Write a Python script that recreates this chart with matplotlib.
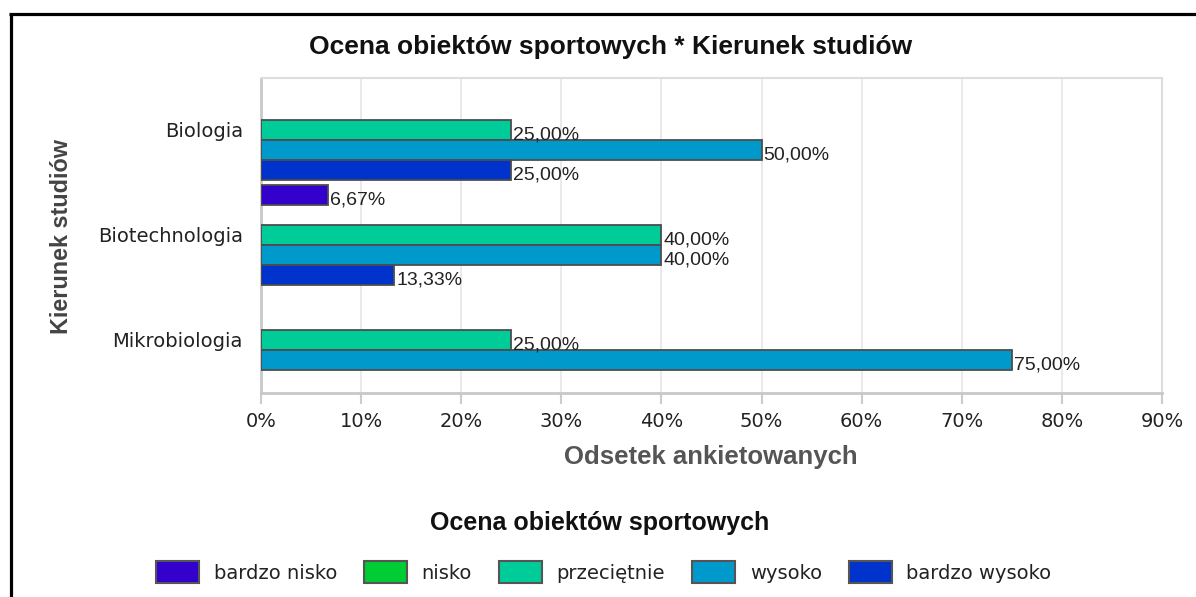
import matplotlib
matplotlib.use("Agg")
import matplotlib.pyplot as plt
from matplotlib.patches import Rectangle
from matplotlib.lines import Line2D
import numpy as np

categories = ["Biologia", "Biotechnologia", "Mikrobiologia"]
series = ["bardzo nisko", "nisko", "przeciętnie", "wysoko", "bardzo wysoko"]
colors = ["#3300CC", "#00CC33", "#00CC99", "#0099CC", "#0033CC"]
values = {
    "bardzo nisko": [0.0, 6.67, 0.0],
    "nisko": [0.0, 0.0, 0.0],
    "przeciętnie": [25.0, 40.0, 25.0],
    "wysoko": [50.0, 40.0, 75.0],
    "bardzo wysoko": [25.0, 13.33, 0.0],
}
xticks = [0, 10, 20, 30, 40, 50, 60, 70, 80, 90]
xticklabels = ["0%", "10%", "20%", "30%", "40%", "50%", "60%", "70%", "80%", "90%"]
title = "Ocena obiektów sportowych * Kierunek studiów"
xlabel = "Odsetek ankietowanych"
ylabel = "Kierunek studiów"
legend_title = "Ocena obiektów sportowych"

W, H = 1196, 597
fig = plt.figure(figsize=(W / 100, H / 100), dpi=100)
fig.patch.set_facecolor("white")

arial = ["Liberation Sans", "DejaVu Sans"]
pix = ["DejaVu Sans"]

ax = fig.add_axes([261 / W, 1 - 393 / H, (1162 - 261) / W, (393 - 78) / H])

h = 0.19
ypos = np.arange(len(categories))
for i, s in enumerate(series):
    vals = values[s]
    off = (i - 2) * h
    for j, v in enumerate(vals):
        if v <= 0:
            continue
        ax.barh(ypos[j] + off, v, height=h, color=colors[i], edgecolor="#4d4d4d",
                linewidth=1.3, zorder=3)
        ax.text(v + 0.2, ypos[j] + off + 0.045, f"{v:.2f}".replace(".", ",") + "%",
                ha="left", va="center", fontsize=14, family=arial, color="#222222",
                zorder=4)

ax.set_xlim(0, 90)
ax.set_ylim(2.505, -0.495)
ax.set_xticks(xticks)
ax.set_xticklabels(xticklabels, fontsize=14, family=pix, color="#222222")
ax.set_yticks(ypos)
ax.set_yticklabels(categories, fontsize=14, family=pix, color="#222222")
ax.tick_params(axis="x", length=8, width=1.5, color="#cccccc", pad=6)
ax.tick_params(axis="y", length=0, pad=13)
ax.grid(axis="x", color="#e6e6e6", linewidth=1.2, zorder=0)
for side in ["left", "bottom"]:
    ax.spines[side].set_color("#c8c8c8")
    ax.spines[side].set_linewidth(2)
for side in ["top", "right"]:
    ax.spines[side].set_color("#dddddd")
    ax.spines[side].set_linewidth(1.5)

fig.text(611 / W, 1 - 47 / H, title, ha="center", va="center", fontsize=19,
         fontweight="bold", family=arial, color="#111111")
fig.text(711 / W, 1 - 457 / H, xlabel, ha="center", va="center", fontsize=18.5,
         fontweight="bold", family=arial, color="#555555")
fig.text(62 / W, 1 - 237 / H, ylabel, ha="center", va="center", rotation=90,
         fontsize=16.8, fontweight="bold", family=arial, color="#444444")
fig.text(600 / W, 1 - 523 / H, legend_title, ha="center", va="center", fontsize=18,
         fontweight="bold", family=arial, color="#111111")

handles = [Rectangle((0, 0), 1, 1, facecolor=c, edgecolor="#555555", linewidth=1.5)
           for c in colors]
leg = fig.legend(handles, series, loc="center", bbox_to_anchor=(604 / W, 1 - 572 / H),
                 ncol=5, frameon=False, prop={"family": pix, "size": 14},
                 handlelength=2.2, handleheight=1.3, handletextpad=0.75,
                 columnspacing=1.4)
for t in leg.get_texts():
    t.set_color("#222222")

fig.add_artist(Line2D([10.5 / W, 10.5 / W], [0, 1 - 13.5 / H], color="black",
                      linewidth=2.3, transform=fig.transFigure, solid_capstyle="butt"))
fig.add_artist(Line2D([9 / W, 1], [1 - 13.5 / H, 1 - 13.5 / H], color="black",
                      linewidth=2.3, transform=fig.transFigure, solid_capstyle="butt"))

fig.savefig("out.png", dpi=100)
